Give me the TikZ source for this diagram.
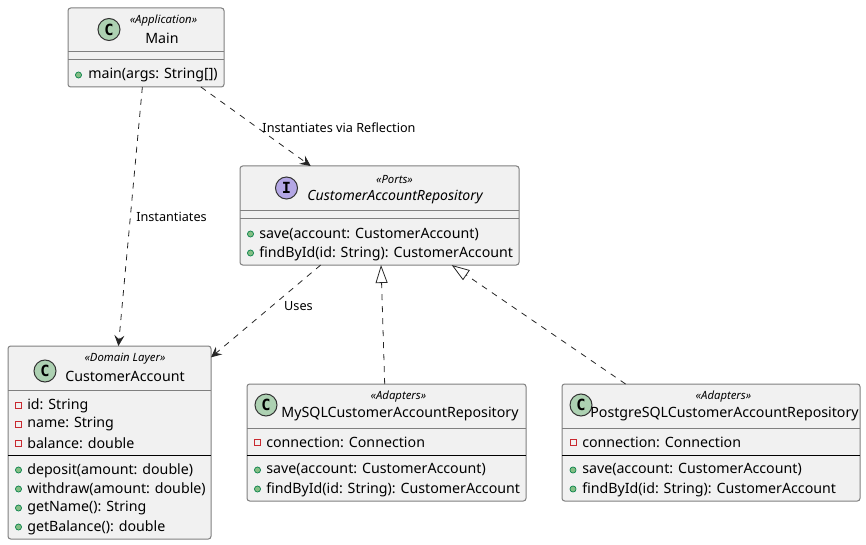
\documentclass[tikz,border=0pt]{standalone}
\usepackage{fontspec}
\setmainfont{Noto Sans}
\newfontfamily\iconfont{DejaVu Sans Mono}
\usetikzlibrary{arrows.meta,calc,positioning}
\definecolor{umlfill}{HTML}{F1F1F1}
\definecolor{umledge}{HTML}{7F7F7F}
\definecolor{umlclass}{HTML}{ADD1B2}
\definecolor{umliface}{HTML}{B4A7E5}
\definecolor{umlpublic}{HTML}{84BE84}
\definecolor{umlpublicedge}{HTML}{038048}
\definecolor{umlprivate}{HTML}{C82930}
\def\px{.75pt}
\tikzset{
 umlbox/.style={draw=umledge,fill=umlfill,line width=.75pt,rounded corners=2pt,inner sep=0pt,outer sep=0pt},
 classicon/.style={circle,draw=black!80,fill=umlclass,line width=.75pt,minimum size=16.5pt,inner sep=0pt,font=\fontsize{11.5}{12}\iconfont\bfseries},
 ifaceicon/.style={classicon,fill=umliface},
 stereo/.style={font=\fontsize{8.5}{10}\selectfont\itshape,inner sep=0pt},
 classname/.style={font=\fontsize{10.65}{12}\selectfont,inner sep=0pt},
 member/.style={anchor=west,font=\fontsize{10.65}{12}\selectfont,inner sep=0pt,yshift=-1pt},
 pubdot/.style={circle,draw=umlpublicedge,fill=umlpublic,line width=.5pt,minimum size=4.6pt,inner sep=0pt},
 privsq/.style={rectangle,draw=umlprivate,line width=.6pt,minimum size=4.6pt,inner sep=0pt},
 softline/.style={draw=umledge,line width=.75pt},
 hardline/.style={draw=black,line width=.75pt},
 depend/.style={draw=black!85,line width=.6pt,dash pattern=on 4.5pt off 4.5pt},
 edgelabel/.style={font=\fontsize{9.5}{11}\selectfont,inner sep=0pt},
}
\begin{document}
\begin{tikzpicture}[x=.75pt,y=-.75pt,>={Stealth[length=8pt,width=7.5pt,inset=3pt]}]
 \useasboundingbox (0,0) rectangle (866,545);
 % Main
 \node[umlbox,minimum width=156*\px,minimum height=79*\px] (main) at (146,47.5) {};
 \node[classicon] (mainicon) at (109,29.5) {C};
 \node[stereo] (mainstereo) at (163.5,21) {«Application»};
 \node[classname] (mainname) at (162,38) {Main};
 \draw[softline] (main.west |- 0,52) -- (main.east |- 0,52);
 \draw[softline] (main.west |- 0,60) -- (main.east |- 0,60);
 \node[pubdot] (maindot) at (78.5,75) {};
 \node[member] (mainmain) at (88,74) {main(args: String[])};
 % Port
 \node[umlbox,minimum width=279*\px,minimum height=99*\px] (repo) at (379.5,215.5) {};
 \node[ifaceicon] (repoicon) at (286.5,188) {I};
 \node[stereo] (repostereo) at (394.5,180) {«Ports»};
 \node[classname,font=\fontsize{10.55}{12}\selectfont\itshape] (reponame) at (395,197) {CustomerAccountRepository};
 \draw[softline] (repo.west |- 0,211) -- (repo.east |- 0,211);
 \draw[softline] (repo.west |- 0,219) -- (repo.east |- 0,219);
 \node[pubdot] (repodota) at (250.5,234) {};
 \node[member] (reposave) at (259,233) {save(account: CustomerAccount)};
 \node[pubdot] (repodotb) at (250.5,253) {};
 \node[member] (repofind) at (259,252) {findById(id: String): CustomerAccount};
 % Domain
 \node[umlbox,minimum width=203*\px,minimum height=193*\px] (account) at (109.5,442.5) {};
 \node[classicon] (accounticon) at (45,371) {C};
 \node[stereo] (accountstereo) at (125,359) {«Domain Layer»};
 \node[classname] (accountname) at (125,376) {CustomerAccount};
 \draw[softline] (account.west |- 0,390) -- (account.east |- 0,390);
 \draw[hardline] (account.west |- 0,455) -- (account.east |- 0,455);
 \foreach \y/\txt [count=\i] in {405/id: String,424/name: String,443/balance: double}
  {\node[privsq] (accountsq\i) at (18.5,\y) {};
   \node[member] (accountfield\i) at (27,\y-1) {\txt};}
 \foreach \y/\txt [count=\i] in {470/deposit(amount: double),489/withdraw(amount: double),508/getName(): String,527/getBalance(): double}
  {\node[pubdot] (accountdot\i) at (18.5,\y) {};
   \node[member] (accountop\i) at (27,\y-1) {\txt};}
 % Adapters
 \node[umlbox,minimum width=279*\px,minimum height=117*\px] (mysql) at (386.5,442.5) {};
 \node[classicon] (mysqlicon) at (266,405) {C};
 \node[stereo] (mysqlstereo) at (398.5,397) {«Adapters»};
 \node[classname] (mysqlname) at (400,414) {MySQLCustomerAccountRepository};
 \draw[softline] (mysql.west |- 0,428) -- (mysql.east |- 0,428);
 \draw[hardline] (mysql.west |- 0,455) -- (mysql.east |- 0,455);
 \node[privsq] (mysqlsq) at (257.5,442.5) {};
 \node[member] (mysqlconn) at (266,441.3) {connection: Connection};
 \node[pubdot] (mysqldota) at (257.5,470) {};
 \node[member] (mysqlsave) at (266,468.5) {save(account: CustomerAccount)};
 \node[pubdot] (mysqldotb) at (257.5,489) {};
 \node[member] (mysqlfind) at (266,488) {findById(id: String): CustomerAccount};
 \node[umlbox,minimum width=298*\px,minimum height=117*\px] (postgres) at (711,442.5) {};
 \node[classicon] (postgresicon) at (581,405) {C};
 \node[stereo] (postgresstereo) at (723.5,397) {«Adapters»};
 \node[classname] (postgresname) at (724.5,414) {PostgreSQLCustomerAccountRepository};
 \draw[softline] (postgres.west |- 0,428) -- (postgres.east |- 0,428);
 \draw[hardline] (postgres.west |- 0,455) -- (postgres.east |- 0,455);
 \node[privsq] (postgressq) at (573,442.5) {};
 \node[member] (postgresconn) at (582,441.3) {connection: Connection};
 \node[pubdot] (postgresdota) at (573,470) {};
 \node[member] (postgressave) at (582,468.5) {save(account: CustomerAccount)};
 \node[pubdot] (postgresdotb) at (573,489) {};
 \node[member] (postgresfind) at (582,488) {findById(id: String): CustomerAccount};
 % Connectors
 \draw[depend,->] (main) -- (account);
 \draw[depend,->] (main) -- (repo);
 \draw[depend,->] (repo) -- (account);
 \draw[depend,-{Triangle[open,length=13.5pt,width=9pt,fill=white]}] (mysql) -- (repo);
 \draw[depend,-{Triangle[open,length=13.5pt,width=9pt,fill=white]}] (postgres) -- (repo);
 \node[edgelabel] (labelinst) at (171.5,216.5) {Instantiates};
 \node[edgelabel] (labelrefl) at (339,128) {Instantiates via Reflection};
 \node[edgelabel] (labeluses) at (298.5,306.5) {Uses};
\end{tikzpicture}
\end{document}
